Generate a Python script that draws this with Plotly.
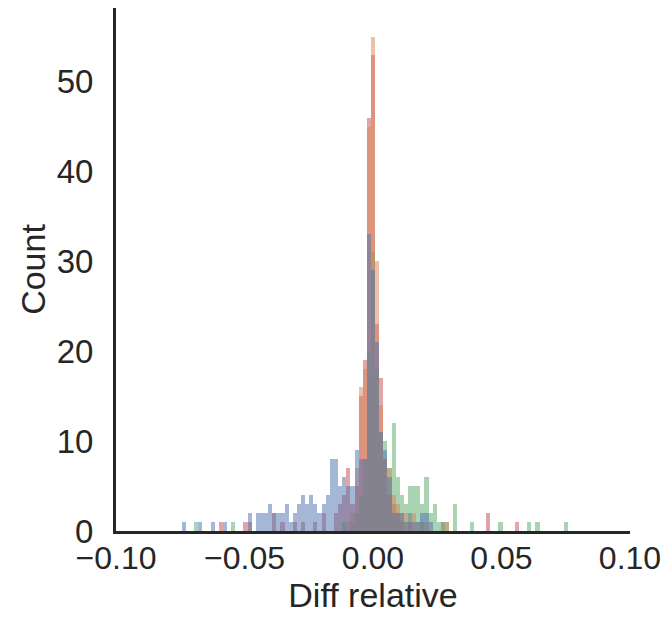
import plotly.graph_objects as go

# histogram bin width (shared by all series) and bin counts per series,
# bins given as integer index k -> bin centred at k * BIN_WIDTH
BIN_WIDTH = 0.0016

blue_bins = [-46, -42, -39, -36, -30, -28, -27, -26, -25, -24, -23, -22, -21, -20, -19, -18,
             -17, -16, -15, -14, -13, -12, -11, -10, -9, -8, -7, -6, -5, -4, -3, -2, -1,
             0, 1, 2, 3, 4, 5, 6, 7, 8, 9, 10, 11, 12, 13, 14]
blue_counts = [1, 1, 1, 1, 2, 2, 2, 2, 3, 2, 2, 2, 3, 1, 2, 3,
               4, 3, 4, 3, 2, 3, 4, 8, 8, 5, 6, 5, 5, 9, 8, 8, 33,
               29, 21, 11, 9, 6, 2, 2, 2, 1, 2, 1, 1, 2, 2, 1]

orange_bins = [-6, -5, -4, -3, -2, -1, 0, 1, 2, 3, 4, 5, 6, 7, 8, 9, 10, 11, 13, 18]
orange_counts = [1, 2, 7, 16, 18, 45, 55, 30, 14, 8, 7, 4, 3, 2, 2, 1, 2, 1, 1, 1]

green_bins = [-43, -34, -7, -5, -4, -3, -2, -1, 0, 1, 2, 3, 4, 5, 6, 7, 8, 9, 10, 11,
              12, 13, 14, 15, 16, 17, 18, 20, 24, 31, 38, 40, 47]
green_counts = [1, 1, 1, 1, 2, 4, 8, 20, 31, 18, 11, 10, 7, 12, 6, 4, 3, 5, 5, 5,
                3, 6, 2, 3, 1, 1, 1, 3, 1, 1, 1, 1, 1]

red_bins = [-37, -31, -30, -24, -22, -19, -17, -14, -12, -9, -8, -7, -6, -5, -4, -3, -2,
            -1, 0, 1, 2, 3, 4, 5, 6, 7, 9, 12, 17, 28, 35]
red_counts = [1, 1, 1, 2, 1, 1, 1, 1, 2, 2, 3, 4, 7, 3, 5, 15, 19,
              46, 53, 23, 17, 8, 4, 3, 2, 1, 1, 1, 1, 2, 1]

# drawn back to front: the first hue ends up on top, as seaborn layers them
series = [
    ("red", red_bins, red_counts, "#C44E52"),
    ("green", green_bins, green_counts, "#55A868"),
    ("orange", orange_bins, orange_counts, "#DD8452"),
    ("blue", blue_bins, blue_counts, "#4C72B0"),
]

FONT = "Liberation Sans, Arial, sans-serif"
INK = "#262626"

fig = go.Figure()
for name, bins, counts, color in series:
    fig.add_trace(go.Bar(
        x=[k * BIN_WIDTH for k in bins], y=counts, width=BIN_WIDTH,
        name=name, marker=dict(color=color, line=dict(width=0)), opacity=0.5,
    ))

fig.update_layout(
    width=664, height=620,
    margin=dict(l=116, r=34, t=8, b=89),
    plot_bgcolor="white", paper_bgcolor="white",
    barmode="overlay", bargap=0, showlegend=False,
    font=dict(family=FONT, color=INK),
)
fig.update_xaxes(
    range=[-0.1, 0.1], tickvals=[-0.1, -0.05, 0, 0.05, 0.1],
    ticktext=["\u22120.10", "\u22120.05", "0.00", "0.05", "0.10"],
    showgrid=False, zeroline=False, showline=True, linecolor=INK, linewidth=3,
    ticks="", ticklen=0, automargin=False, ticklabelstandoff=-3,
    tickfont=dict(size=32, family=FONT, color=INK),
    title=dict(text="Diff relative", font=dict(size=34, family=FONT, color=INK), standoff=8),
)
fig.update_yaxes(
    range=[0, 58.2], tickvals=[0, 10, 20, 30, 40, 50],
    showgrid=False, zeroline=False, showline=True, linecolor=INK, linewidth=3,
    ticks="", ticklen=0, automargin=False, ticklabelstandoff=13,
    tickfont=dict(size=33, family=FONT, color=INK),
    title=dict(text="Count", font=dict(size=34, family=FONT, color=INK), standoff=1),
)

# drop the browser's default body margin so the 664x620 figure fills the window
fig.write_html("out.html", config={"displayModeBar": False},
               post_script="document.body.style.margin = '0';")
